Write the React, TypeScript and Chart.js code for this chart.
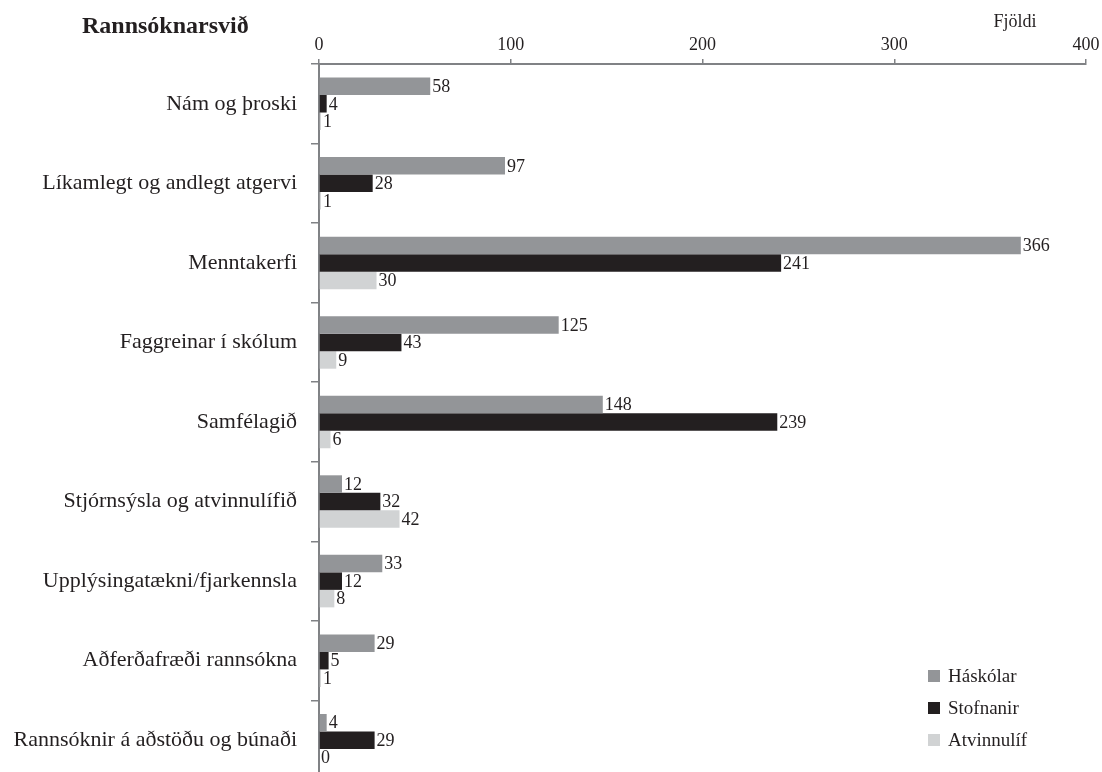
import React, { useEffect, useRef } from "react";
import { Chart, registerables } from "chart.js";

Chart.register(...registerables);

const categories = [
  "Nám og þroski",
  "Líkamlegt og andlegt atgervi",
  "Menntakerfi",
  "Faggreinar í skólum",
  "Samfélagið",
  "Stjórnsýsla og atvinnulífið",
  "Upplýsingatækni/fjarkennsla",
  "Aðferðafræði rannsókna",
  "Rannsóknir á aðstöðu og búnaði",
];
const haskolar = [58, 97, 366, 125, 148, 12, 33, 29, 4];
const stofnanir = [4, 28, 241, 43, 239, 32, 12, 5, 29];
const atvinnulif = [1, 1, 30, 9, 6, 42, 8, 1, 0];
const seriesNames = ["Háskólar", "Stofnanir", "Atvinnulíf"];
const seriesColors = ["#939598", "#231f20", "#d1d3d4"];
const xTickValues = [0, 100, 200, 300, 400];
const titleText = "Rannsóknarsvið";
const axisTitleText = "Fjöldi";

const FONT = "'Liberation Serif', 'DejaVu Serif', serif";
const TEXT = "#231f20";
const AXIS = "#808285";

const overlayPlugin = {
  id: "overlay",
  afterDatasetsDraw(chart: any) {
    const ctx = chart.ctx;
    ctx.save();
    ctx.font = `18px ${FONT}`;
    ctx.fillStyle = TEXT;
    ctx.textAlign = "left";
    ctx.textBaseline = "middle";
    chart.data.datasets.forEach((ds: any, di: number) => {
      const meta = chart.getDatasetMeta(di);
      meta.data.forEach((el: any, i: number) => {
        ctx.fillText(String(ds.data[i]), el.x + 2, el.y + 1);
      });
    });
    ctx.restore();
  },
  afterDraw(chart: any) {
    const ctx = chart.ctx;
    ctx.save();
    ctx.fillStyle = TEXT;
    ctx.font = `bold 24px ${FONT}`;
    ctx.textAlign = "left";
    ctx.textBaseline = "alphabetic";
    ctx.fillText(titleText, 82, 33);
    ctx.font = `18px ${FONT}`;
    ctx.textAlign = "center";
    ctx.fillText(axisTitleText, 1015, 27);
    // legend
    ctx.textAlign = "left";
    ctx.textBaseline = "middle";
    ctx.font = `19px ${FONT}`;
    chart.data.datasets.forEach((ds: any, i: number) => {
      const cy = 676 + i * 32;
      ctx.fillStyle = ds.backgroundColor;
      ctx.fillRect(928, cy - 6, 12, 12);
      ctx.fillStyle = TEXT;
      ctx.fillText(ds.label, 948, cy + 1);
    });
    ctx.restore();
  },
};

export default function App() {
  const ref = useRef<HTMLCanvasElement>(null);
  useEffect(() => {
    if (!ref.current) return;
    const chart = new Chart(ref.current, {
      type: "bar",
      data: {
        labels: categories,
        datasets: [haskolar, stofnanir, atvinnulif].map((d, i) => ({
          label: seriesNames[i],
          data: d,
          backgroundColor: seriesColors[i],
          borderWidth: 0,
          categoryPercentage: 0.66,
          barPercentage: 1,
        })),
      },
      options: {
        indexAxis: "y",
        responsive: false,
        animation: false,
        layout: { padding: { left: 0, right: 16, top: 0, bottom: 10 } },
        plugins: {
          legend: { display: false },
          tooltip: { enabled: false },
          title: { display: false },
        },
        scales: {
          x: {
            position: "top",
            min: 0,
            max: 400,
            afterFit: (s: any) => {
              s.height = 64;
              s.paddingLeft = 0;
              s.paddingRight = 0;
            },
            afterBuildTicks: (s: any) => {
              s.ticks = xTickValues.map((v) => ({ value: v }));
            },
            ticks: {
              font: { family: FONT, size: 18 },
              color: TEXT,
              padding: 3,
              maxRotation: 0,
            },
            grid: {
              drawOnChartArea: false,
              drawTicks: true,
              tickLength: 5,
              color: AXIS,
              lineWidth: 1.5,
            },
            border: { color: AXIS, width: 2 },
          },
          y: {
            afterFit: (s: any) => {
              s.width = 319;
              s.paddingTop = 0;
              s.paddingBottom = 0;
            },
            ticks: {
              font: { family: FONT, size: 22 },
              color: TEXT,
              padding: 14,
            },
            grid: {
              offset: true,
              drawOnChartArea: false,
              drawTicks: true,
              tickLength: 8,
              color: AXIS,
              lineWidth: 1.5,
            },
            border: { color: AXIS, width: 2 },
          },
        },
      } as any,
      plugins: [overlayPlugin],
    });
    return () => chart.destroy();
  }, []);
  return (
    <div
      style={{
        position: "fixed",
        left: 0,
        top: 0,
        width: 1102,
        height: 772,
        overflow: "hidden",
        background: "#fff",
      }}
    >
      <canvas ref={ref} width={1102} height={790} style={{ display: "block" }} />
    </div>
  );
}
